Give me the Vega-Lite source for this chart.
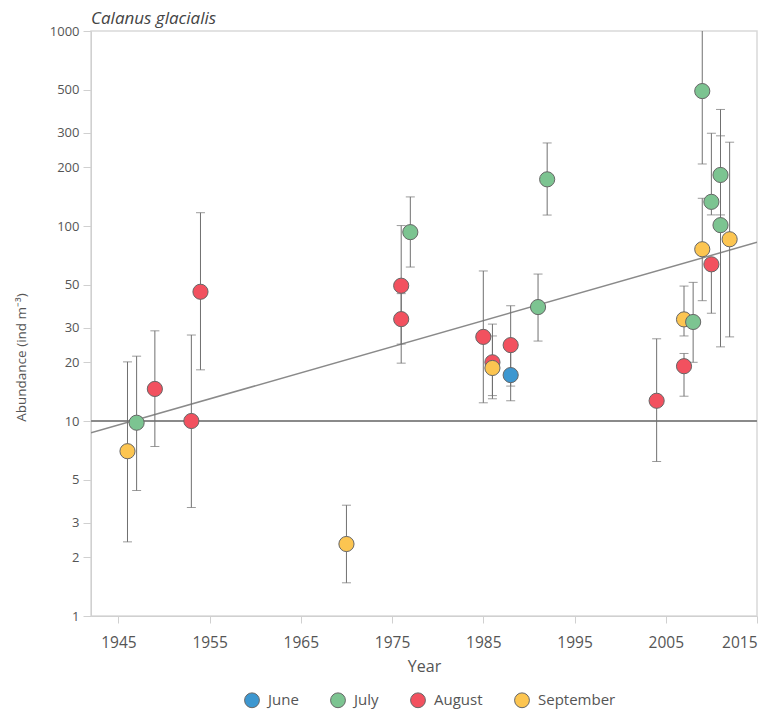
{
  "$schema": "https://vega.github.io/schema/vega-lite/v6.json",
  "autosize": {"type": "none"},
  "width": 666,
  "height": 585,
  "padding": {"left": 91, "top": 31, "right": 19, "bottom": 97},
  "background": "white",
  "config": {
    "font": "Open Sans",
    "view": {"stroke": "#d9d9d9", "strokeWidth": 1.5},
    "axis": {"grid": false, "domainColor": "#d0d0d0", "tickColor": "#d0d0d0", "labelColor": "#555555", "titleColor": "#555555", "titleFontWeight": "normal"}
  },
  "title": {"text": "Calanus glacialis", "anchor": "start", "frame": "group", "fontStyle": "italic", "fontWeight": "normal", "fontSize": 17, "color": "#444444", "offset": -3},
  "data": {"values": [
    {"year": 1946, "month": "September", "value": 7.0, "lo": 2.4, "hi": 20.1},
    {"year": 1947, "month": "July", "value": 9.8, "lo": 4.4, "hi": 21.5},
    {"year": 1949, "month": "August", "value": 14.6, "lo": 7.4, "hi": 29},
    {"year": 1953, "month": "August", "value": 10, "lo": 3.6, "hi": 27.6},
    {"year": 1954, "month": "August", "value": 46, "lo": 18.3, "hi": 117},
    {"year": 1970, "month": "September", "value": 2.34, "lo": 1.48, "hi": 3.7},
    {"year": 1976, "month": "August", "value": 49.4, "lo": 19.8, "hi": 100.5},
    {"year": 1976, "month": "August", "value": 33.3, "lo": 24.8, "hi": 45},
    {"year": 1977, "month": "July", "value": 93, "lo": 61.6, "hi": 141},
    {"year": 1985, "month": "August", "value": 27, "lo": 12.4, "hi": 58.8},
    {"year": 1986, "month": "August", "value": 20, "lo": 13, "hi": 31.4},
    {"year": 1986, "month": "September", "value": 18.7, "lo": 13.5, "hi": 27.3},
    {"year": 1988, "month": "August", "value": 24.5, "lo": 12.7, "hi": 39},
    {"year": 1988, "month": "June", "value": 17.2, "lo": 15.1, "hi": 23.6},
    {"year": 1991, "month": "July", "value": 38.4, "lo": 25.7, "hi": 56.7},
    {"year": 1992, "month": "July", "value": 173.5, "lo": 113.8, "hi": 266.6},
    {"year": 2004, "month": "August", "value": 12.7, "lo": 6.2, "hi": 26.4},
    {"year": 2007, "month": "August", "value": 19.1, "lo": 13.4, "hi": 22.2},
    {"year": 2007, "month": "September", "value": 33.2, "lo": 27.3, "hi": 49.2},
    {"year": 2008, "month": "July", "value": 32.2, "lo": 20, "hi": 51.4},
    {"year": 2009, "month": "September", "value": 76, "lo": 41.4, "hi": 138.7},
    {"year": 2009, "month": "July", "value": 492, "lo": 208, "hi": 1500},
    {"year": 2010, "month": "August", "value": 63.6, "lo": 35.7, "hi": 67.5},
    {"year": 2010, "month": "July", "value": 133, "lo": 114, "hi": 299},
    {"year": 2011, "month": "July", "value": 182.7, "lo": 114, "hi": 396},
    {"year": 2011, "month": "July", "value": 101, "lo": 24, "hi": 290},
    {"year": 2012, "month": "September", "value": 85.5, "lo": 27, "hi": 269}
  ]},
  "layer": [
    {
      "mark": {"type": "rule", "color": "#8a8a8a", "strokeWidth": 1.5},
      "encoding": {"y": {"datum": 10, "type": "quantitative", "scale": {"type": "log", "domain": [1, 1000], "nice": false}}}
    },
    {
      "data": {"values": [{"year": 1942, "trend": 8.7}, {"year": 2015, "trend": 82.5}]},
      "mark": {"type": "line", "color": "#8a8a8a", "strokeWidth": 1.5, "clip": true},
      "encoding": {
        "x": {"field": "year", "type": "quantitative"},
        "y": {"field": "trend", "type": "quantitative"}
      }
    },
    {
      "mark": {"type": "rule", "color": "#707070", "strokeWidth": 1, "clip": true},
      "encoding": {
        "x": {"field": "year", "type": "quantitative"},
        "y": {"field": "lo", "type": "quantitative"},
        "y2": {"field": "hi"}
      }
    },
    {
      "mark": {"type": "tick", "orient": "horizontal", "color": "#707070", "thickness": 1, "size": 9, "clip": true},
      "encoding": {
        "x": {"field": "year", "type": "quantitative"},
        "y": {"field": "lo", "type": "quantitative"}
      }
    },
    {
      "mark": {"type": "tick", "orient": "horizontal", "color": "#707070", "thickness": 1, "size": 9, "clip": true},
      "encoding": {
        "x": {"field": "year", "type": "quantitative"},
        "y": {"field": "hi", "type": "quantitative"}
      }
    },
    {
      "mark": {"type": "point", "shape": "circle", "filled": true, "size": 230, "opacity": 1, "stroke": "#666666", "strokeWidth": 1},
      "encoding": {
        "x": {"field": "year", "type": "quantitative",
          "scale": {"domain": [1942, 2015], "nice": false, "zero": false},
          "axis": {"title": "Year", "values": [1945, 1955, 1965, 1975, 1985, 1995, 2005, 2015], "format": "d", "labelFontSize": 15.5, "tickSize": 7, "labelPadding": 12, "titleFontSize": 16, "titlePadding": 8}},
        "y": {"field": "value", "type": "quantitative",
          "scale": {"type": "log", "domain": [1, 1000], "nice": false},
          "axis": {"title": "Abundance (ind m⁻³)", "values": [1, 2, 3, 5, 10, 20, 30, 50, 100, 200, 300, 500, 1000], "format": "d", "labelFontSize": 13, "tickSize": 8, "labelPadding": 4, "titleFontSize": 13.5, "titleAngle": -90, "titleX": -70, "titleY": 326, "titleAlign": "center", "titleBaseline": "middle"}},
        "color": {"field": "month", "type": "nominal",
          "scale": {"domain": ["June", "July", "August", "September"], "range": ["#3d97d0", "#7cc491", "#f2515f", "#fcc551"]},
          "legend": {"title": null, "orient": "none", "direction": "horizontal", "legendX": 153, "legendY": 661, "symbolType": "circle", "symbolSize": 220, "symbolStrokeColor": "#666666", "symbolStrokeWidth": 1, "symbolOpacity": 1, "labelFontSize": 15, "labelColor": "#555555", "labelOffset": 8, "columnPadding": 29}}
      }
    }
  ]
}
